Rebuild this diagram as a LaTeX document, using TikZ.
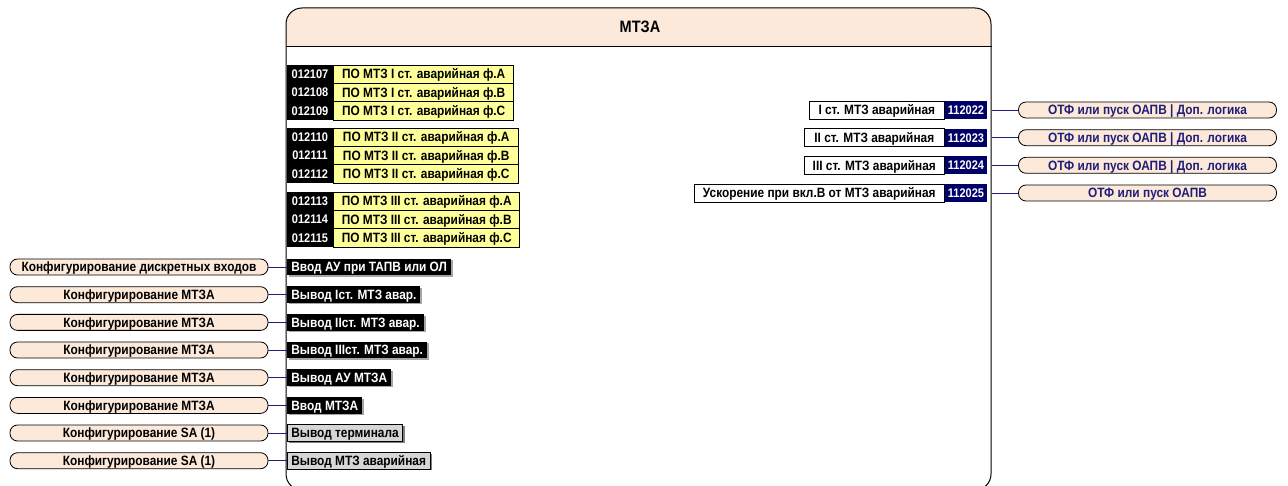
\documentclass[tikz,border=0pt]{standalone}
\usepackage{fontspec}
\setmainfont[FakeStretch=0.88]{Liberation Sans}
\usetikzlibrary{positioning,shadows}
\definecolor{peach}{HTML}{FCE9DA}
\definecolor{sigyellow}{HTML}{FFFF99}
\definecolor{navy}{HTML}{000066}
\definecolor{wire}{HTML}{1F1F7A}

\begin{document}
\begin{tikzpicture}[
    x=1pt, y=-1pt,
    font=\fontsize{13.5}{15}\selectfont\bfseries,
    line width=0.8pt,
    every node/.append style={text height=9.6pt, text depth=0pt},
    pill/.style={draw, fill=peach, rounded corners=7.5pt, minimum width=258pt,
        minimum height=16pt, inner sep=0pt},
    idnum/.style={fill=black, text=white, minimum width=46pt, minimum height=18.3pt, inner sep=0pt,
        font=\fontsize{12.5}{14}\selectfont\bfseries, text height=8.9pt},
    sig/.style={draw, fill=sigyellow, minimum height=18.3pt, inner sep=0pt, line width=0.6pt},
    cmd/.style={fill=black, text=white, minimum height=16.5pt, inner xsep=4pt, inner ysep=0pt, anchor=west,
        general shadow={fill=black!35, shadow xshift=2pt, shadow yshift=-1.5pt}},
    term/.style={draw=black, fill=black!16, minimum height=16.5pt, inner xsep=4pt, inner ysep=0pt,
        anchor=west, line width=0.6pt, general shadow={fill=black!50, shadow xshift=2pt, shadow yshift=-1.5pt}},
    outsig/.style={draw, fill=white, minimum height=18pt, inner sep=0pt, line width=0.6pt},
    outid/.style={fill=navy, text=white, minimum width=42pt, minimum height=18pt, inner sep=0pt,
        font=\fontsize{12.5}{14}\selectfont\bfseries, text height=8.9pt},
    wire/.style={draw=wire, line width=0.8pt}
]
\useasboundingbox (0,0) rectangle (1288,486);

% Main block
\fill[peach] (286,46) [rounded corners=16pt] -- (286,8) -- (991,8) [sharp corners] -- (991,46) -- cycle;
\node[draw, rounded corners=16pt, minimum width=705pt, minimum height=482pt, line width=1pt] (mtza) at (638.5,249) {};
\draw (mtza.west |- 0,46) -- (mtza.east |- 0,46);
\node[font=\fontsize{16.5}{18}\selectfont\bfseries, text height=11.8pt] (title) at (640,27) {МТЗА};

% Input signals, stage I
\node[idnum] (n107) at (310,74.2) {012107};
\node[sig, minimum width=180pt, right=0pt of n107] (s107) {ПО МТЗ I ст. аварийная ф.А};
\node[idnum] (n108) at (310,92.5) {012108};
\node[sig, minimum width=180pt, right=0pt of n108] (s108) {ПО МТЗ I ст. аварийная ф.В};
\node[idnum] (n109) at (310,110.8) {012109};
\node[sig, minimum width=180pt, right=0pt of n109] (s109) {ПО МТЗ I ст. аварийная ф.С};

% Input signals, stage II
\node[idnum] (n110) at (310,137.2) {012110};
\node[sig, minimum width=185pt, right=0pt of n110] (s110) {ПО МТЗ II ст. аварийная ф.А};
\node[idnum] (n111) at (310,155.5) {012111};
\node[sig, minimum width=185pt, right=0pt of n111] (s111) {ПО МТЗ II ст. аварийная ф.В};
\node[idnum] (n112) at (310,173.8) {012112};
\node[sig, minimum width=185pt, right=0pt of n112] (s112) {ПО МТЗ II ст. аварийная ф.С};

% Input signals, stage III
\node[idnum] (n113) at (310,201.2) {012113};
\node[sig, minimum width=186pt, right=0pt of n113] (s113) {ПО МТЗ III ст. аварийная ф.А};
\node[idnum] (n114) at (310,219.5) {012114};
\node[sig, minimum width=186pt, right=0pt of n114] (s114) {ПО МТЗ III ст. аварийная ф.В};
\node[idnum] (n115) at (310,237.8) {012115};
\node[sig, minimum width=186pt, right=0pt of n115] (s115) {ПО МТЗ III ст. аварийная ф.С};

% Settings from other blocks
\node[pill] (p1) at (139,267) {Конфигурирование дискретных входов};
\node[cmd] (c1) at (287,267) {Ввод АУ при ТАПВ или ОЛ};
\draw[wire] (p1) -- (c1);
\node[pill] (p2) at (139,294.7) {Конфигурирование МТЗА};
\node[cmd] (c2) at (287,294.7) {Вывод Iст. МТЗ авар.};
\draw[wire] (p2) -- (c2);
\node[pill] (p3) at (139,322.4) {Конфигурирование МТЗА};
\node[cmd] (c3) at (287,322.4) {Вывод IIст. МТЗ авар.};
\draw[wire] (p3) -- (c3);
\node[pill] (p4) at (139,350) {Конфигурирование МТЗА};
\node[cmd] (c4) at (287,350) {Вывод IIIст. МТЗ авар.};
\draw[wire] (p4) -- (c4);
\node[pill] (p5) at (139,377.7) {Конфигурирование МТЗА};
\node[cmd] (c5) at (287,377.7) {Вывод АУ МТЗА};
\draw[wire] (p5) -- (c5);
\node[pill] (p6) at (139,405.4) {Конфигурирование МТЗА};
\node[cmd] (c6) at (287,405.4) {Ввод МТЗА};
\draw[wire] (p6) -- (c6);
\node[pill] (p7) at (139,433) {Конфигурирование SA (1)};
\node[term] (c7) at (287,433) {Вывод терминала};
\draw[wire] (p7) -- (c7);
\node[pill] (p8) at (139,460.7) {Конфигурирование SA (1)};
\node[term] (c8) at (287,460.7) {Вывод МТЗ аварийная};
\draw[wire] (p8) -- (c8);

% Output signals
\node[outid] (o22) at (966,110) {112022};
\node[outsig, minimum width=135pt, left=0pt of o22] (t22) {I ст. МТЗ аварийная};
\node[pill, text=wire] (q22) at (1147.5,110) {ОТФ или пуск ОАПВ | Доп. логика};
\draw[wire] (mtza.east |- q22) -- (q22);
\node[outid] (o23) at (966,137.7) {112023};
\node[outsig, minimum width=140pt, left=0pt of o23] (t23) {II ст. МТЗ аварийная};
\node[pill, text=wire] (q23) at (1147.5,137.7) {ОТФ или пуск ОАПВ | Доп. логика};
\draw[wire] (mtza.east |- q23) -- (q23);
\node[outid] (o24) at (966,165.3) {112024};
\node[outsig, minimum width=140pt, left=0pt of o24] (t24) {III ст. МТЗ аварийная};
\node[pill, text=wire] (q24) at (1147.5,165.3) {ОТФ или пуск ОАПВ | Доп. логика};
\draw[wire] (mtza.east |- q24) -- (q24);
\node[outid] (o25) at (966,193) {112025};
\node[outsig, minimum width=250pt, left=0pt of o25] (t25) {Ускорение при вкл.В от МТЗ аварийная};
\node[pill, text=wire] (q25) at (1147.5,193) {ОТФ или пуск ОАПВ};
\draw[wire] (mtza.east |- q25) -- (q25);
\end{tikzpicture}
\end{document}
